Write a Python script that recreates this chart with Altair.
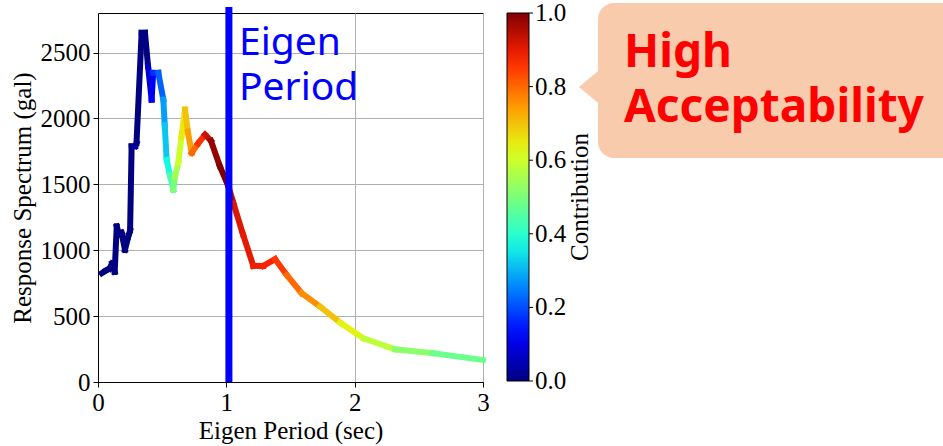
import altair as alt
import pandas as pd

# Response spectrum
periods = [0.03, 0.06, 0.09, 0.11, 0.13, 0.146, 0.165, 0.184, 0.21, 0.236, 0.25, 0.262,
           0.29, 0.30, 0.34, 0.366, 0.39, 0.418, 0.43, 0.47, 0.509, 0.52, 0.535, 0.56,
           0.587, 0.60, 0.626, 0.65, 0.678, 0.70, 0.73, 0.78, 0.834, 0.88, 0.95, 1.016,
           1.055, 1.13, 1.21, 1.288, 1.38, 1.47, 1.587, 1.73, 1.886, 2.068, 2.315, 2.61, 3.0]
spectrum = [826, 845, 860, 900, 836, 1180, 1120, 1132, 1003, 1104, 1150, 1788,
            1790, 1813, 2650, 2650, 2396, 2143, 2346, 2346, 2143, 1950, 1687, 1570,
            1459, 1560, 1662, 1860, 2067, 1900, 1738, 1810, 1877, 1830, 1636, 1484,
            1357, 1120, 881, 881, 932, 813, 674, 572, 451, 332, 248, 218, 167]
contribution = [0.0, 0.0, 0.0, 0.0, 0.0, 0.0, 0.0, 0.0, 0.0, 0.0, 0.0, 0.0,
                0.05, 0.0, 0.0, 0.0, 0.08, 0.12, 0.17, 0.22, 0.28, 0.32, 0.37, 0.44,
                0.5, 0.55, 0.6, 0.65, 0.7, 0.74, 0.8, 0.86, 0.93, 0.98, 1.0, 0.95,
                0.91, 0.9, 0.89, 0.88, 0.85, 0.8, 0.76, 0.7, 0.64, 0.58, 0.52, 0.48, 0.42]

eigen_period = 1.02
x_ticks = [0, 1, 2, 3]
y_ticks = [0, 500, 1000, 1500, 2000, 2500]
cbar_ticks = [0.0, 0.2, 0.4, 0.6, 0.8, 1.0]

jet_stops = [0.0, 0.125, 0.25, 0.375, 0.5, 0.625, 0.75, 0.875, 1.0]
jet_colors = ["#000080", "#0000FF", "#0080FF", "#14FFE2", "#7BFF7B",
              "#E2FF14", "#FF9700", "#FF2100", "#800000"]

segs = pd.DataFrame({
    "x": periods[:-1], "x2": periods[1:],
    "y": spectrum[:-1], "y2": spectrum[1:],
    "c": contribution[:-1],
})
cbar_df = pd.DataFrame({"v": cbar_ticks})

W, H = 385, 369
CB_LEN = 368
serif = "Liberation Serif"

xs = alt.Scale(domain=[0, 3], nice=False)
ys = alt.Scale(domain=[0, 2800], nice=False)

line = alt.Chart(segs).mark_rule(strokeWidth=6, strokeCap="square").encode(
    x=alt.X("x:Q", scale=xs, title="Eigen Period (sec)",
            axis=alt.Axis(values=x_ticks, format="d", labelPadding=3, titlePadding=3,
                          labelFlush=False)),
    x2="x2:Q",
    y=alt.Y("y:Q", scale=ys, title="Response Spectrum (gal)",
            axis=alt.Axis(values=y_ticks, format="d", labelPadding=3, titlePadding=5,
                          labelFlush=False)),
    y2="y2:Q",
    color=alt.Color("c:Q",
                    scale=alt.Scale(domain=jet_stops, range=jet_colors, interpolate="rgb"),
                    legend=alt.Legend(orient="none", legendX=409, legendY=0,
                                      direction="vertical", gradientLength=CB_LEN,
                                      gradientThickness=22, gradientStrokeColor="black",
                                      gradientStrokeWidth=1, values=cbar_ticks,
                                      labelExpr="''", labelOpacity=0, title=None)),
)

vline = alt.Chart(pd.DataFrame({"p": [eigen_period]})).mark_rule(
    color="#0000FF", strokeWidth=7).encode(
    x=alt.X("p:Q", scale=xs), y=alt.value(-6), y2=alt.value(H))

cbs = alt.Scale(domain=[0, 1], range=[CB_LEN, 0])
cbar_labels = alt.Chart(cbar_df).mark_text(
    font=serif, fontSize=25, color="black", align="left", baseline="middle").encode(
    x=alt.value(437), y=alt.Y("v:Q", scale=cbs, axis=None),
    text=alt.Text("v:Q", format=".1f"))
cbar_ticks_mark = alt.Chart(cbar_df).mark_rule(color="black", strokeWidth=1).encode(
    x=alt.value(431), x2=alt.value(435), y=alt.Y("v:Q", scale=cbs, axis=None))

cbar_title = alt.Chart(pd.DataFrame({"a": [0]})).mark_text(
    text="Contribution", font=serif, fontSize=25, color="black", angle=270,
    align="center", baseline="middle").encode(
    x=alt.value(482), y=alt.value(184))

eigen_text = alt.Chart(pd.DataFrame({"a": [0]})).mark_text(
    text=["Eigen", "Period"], font="Noto Sans", fontSize=39, color="#0000FF",
    align="left", baseline="alphabetic", lineHeight=45).encode(
    x=alt.value(141), y=alt.value(42))

bubble = alt.Chart(pd.DataFrame({"a": [0]})).mark_rect(
    color="#F8CBAD", cornerRadius=16).encode(
    x=alt.value(500), x2=alt.value(870), y=alt.value(-10), y2=alt.value(145))

pointer = alt.Chart(pd.DataFrame({"a": [0]})).mark_point(
    shape="M -0.6 0 L 0.6 -1 L 0.6 1 Z", filled=True, fill="#F8CBAD",
    strokeWidth=0, opacity=1, size=1369).encode(
    x=alt.value(492), y=alt.value(74))

high_text = alt.Chart(pd.DataFrame({"a": [0]})).mark_text(
    text=["High", "Acceptability"], font="Noto Sans", fontSize=46, fontWeight="bold",
    color="#FF0000", align="left", baseline="alphabetic", lineHeight=55).encode(
    x=alt.value(526), y=alt.value(54))

chart = alt.layer(
    line, vline, eigen_text, cbar_labels, cbar_ticks_mark, cbar_title, bubble, pointer, high_text
).resolve_scale(y="independent").properties(
    width=W, height=H,
    autosize=alt.AutoSizeParams(type="none"),
    padding={"left": 98, "top": 13, "right": 943 - 98 - W, "bottom": 446 - 13 - H},
    background="white",
).configure_view(stroke="black", strokeWidth=1).configure_axis(
    labelFont=serif, titleFont=serif, labelFontSize=25, titleFontSize=25,
    labelColor="black", titleColor="black", titleFontWeight="normal",
    tickColor="black", domainColor="black", tickSize=5, grid=True,
    gridColor="#b0b0b0", gridWidth=1,
)

chart.save("out.html", embed_options={"renderer": "svg", "actions": False})
